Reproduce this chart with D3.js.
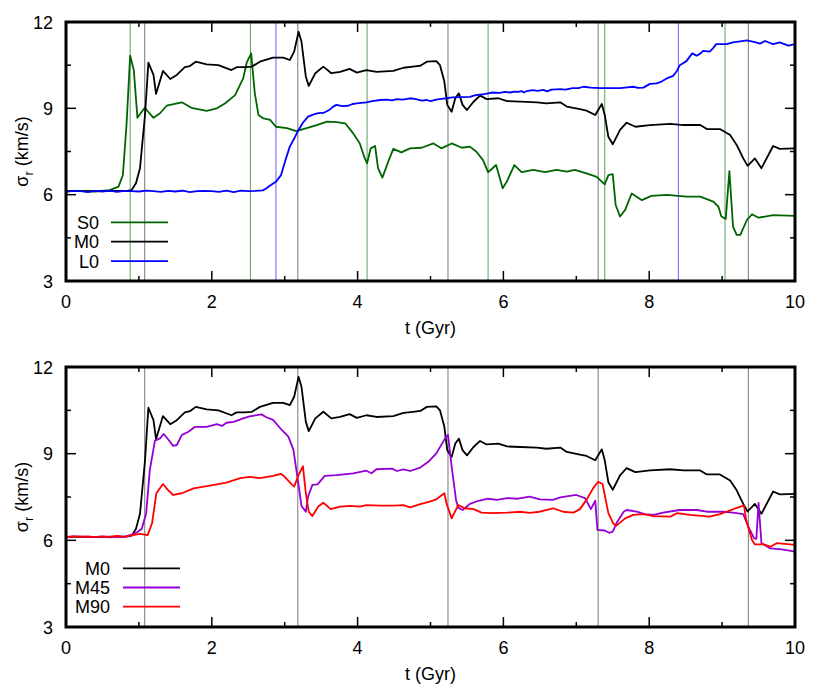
<!DOCTYPE html>
<html>
<head>
<meta charset="utf-8">
<script src="https://cdn.jsdelivr.net/npm/d3@7"></script>
<style>
html,body{margin:0;padding:0;background:#fff;}
svg{display:block;font-family:"Liberation Sans",Arial,Helvetica,sans-serif;}
</style>
</head>
<body>
<svg id="chart" width="830" height="690"></svg>
<script>
// ---------- data ----------
const xTicks = [0, 2, 4, 6, 8, 10];
const yTicks = [3, 6, 9, 12];

const S0 = [[0,6.12],[0.2,6.13],[0.4,6.11],[0.6,6.16],[0.72,6.28],[0.78,6.68],[0.83,8.42],[0.88,10.83],[0.93,10.33],[0.98,8.67],[1.08,9.02],[1.20,8.67],[1.29,8.83],[1.38,9.09],[1.59,9.21],[1.72,9.02],[1.93,8.91],[2.07,9.0],[2.18,9.17],[2.32,9.46],[2.43,10.04],[2.48,10.6],[2.54,10.91],[2.59,9.52],[2.64,8.77],[2.71,8.65],[2.80,8.6],[2.88,8.36],[3.03,8.31],[3.16,8.21],[3.30,8.31],[3.44,8.42],[3.58,8.54],[3.71,8.52],[3.83,8.48],[3.94,8.13],[4.03,7.78],[4.09,7.32],[4.13,7.09],[4.18,7.61],[4.24,7.69],[4.28,6.92],[4.34,6.59],[4.42,7.15],[4.49,7.59],[4.60,7.47],[4.72,7.61],[4.88,7.63],[5.04,7.78],[5.15,7.61],[5.29,7.78],[5.43,7.63],[5.54,7.67],[5.63,7.49],[5.72,7.2],[5.79,6.78],[5.90,7.03],[5.99,6.22],[6.05,6.47],[6.15,7.03],[6.25,6.78],[6.41,6.86],[6.57,6.78],[6.73,6.86],[6.87,6.8],[6.98,6.86],[7.14,6.74],[7.28,6.62],[7.39,6.36],[7.44,6.68],[7.50,6.71],[7.54,5.64],[7.60,5.24],[7.67,5.47],[7.76,6.04],[7.90,5.81],[8.03,5.96],[8.24,5.99],[8.51,5.93],[8.70,5.93],[8.88,5.76],[8.95,5.58],[8.99,5.24],[9.05,5.16],[9.10,6.82],[9.15,4.89],[9.20,4.6],[9.25,4.6],[9.34,5.12],[9.41,5.32],[9.50,5.2],[9.70,5.29],[10,5.26]];

const M0 = [[0,6.12],[0.5,6.12],[0.85,6.14],[0.90,6.16],[0.96,6.4],[1.015,6.92],[1.084,8.77],[1.13,10.59],[1.20,10.16],[1.235,9.5],[1.33,10.3],[1.43,10.02],[1.52,10.16],[1.63,10.43],[1.70,10.47],[1.78,10.62],[1.93,10.53],[2.09,10.5],[2.27,10.33],[2.34,10.43],[2.45,10.43],[2.55,10.45],[2.66,10.62],[2.84,10.76],[2.98,10.76],[3.07,10.68],[3.13,10.97],[3.19,11.66],[3.23,11.32],[3.29,10.1],[3.33,9.78],[3.42,10.22],[3.53,10.45],[3.64,10.22],[3.76,10.27],[3.89,10.37],[3.99,10.24],[4.12,10.33],[4.26,10.27],[4.49,10.3],[4.63,10.41],[4.76,10.45],[4.86,10.48],[4.95,10.62],[5.08,10.64],[5.13,10.5],[5.19,9.93],[5.23,9.12],[5.29,8.88],[5.34,9.35],[5.39,9.52],[5.44,9.12],[5.50,8.94],[5.59,9.23],[5.68,9.44],[5.77,9.32],[5.93,9.35],[6.05,9.25],[6.23,9.23],[6.46,9.21],[6.59,9.17],[6.78,9.21],[6.87,9.06],[7.05,8.97],[7.14,8.92],[7.26,8.77],[7.35,9.15],[7.39,8.77],[7.44,8.01],[7.50,7.75],[7.60,8.25],[7.69,8.5],[7.81,8.36],[8.01,8.42],[8.29,8.46],[8.47,8.42],[8.70,8.42],[8.79,8.28],[8.97,8.28],[9.11,8.07],[9.20,7.73],[9.29,7.26],[9.35,7.0],[9.45,7.26],[9.54,6.92],[9.70,7.69],[9.79,7.59],[10,7.61]];

const L0 = [[0,6.10],[0.1,6.13],[0.2,6.12],[0.3,6.09],[0.4,6.13],[0.5,6.11],[0.6,6.14],[0.7,6.10],[0.8,6.13],[0.9,6.12],[1.0,6.11],[1.1,6.14],[1.2,6.12],[1.3,6.10],[1.4,6.13],[1.5,6.11],[1.6,6.14],[1.7,6.09],[1.8,6.12],[1.9,6.13],[2.0,6.12],[2.1,6.10],[2.2,6.14],[2.3,6.09],[2.4,6.14],[2.5,6.12],[2.6,6.13],[2.7,6.15],[2.75,6.22],[2.82,6.35],[2.88,6.45],[2.95,6.68],[3.01,7.2],[3.07,7.67],[3.13,7.95],[3.19,8.25],[3.25,8.5],[3.32,8.71],[3.39,8.78],[3.46,8.83],[3.53,8.84],[3.61,8.94],[3.66,9.05],[3.71,9.12],[3.79,9.08],[3.87,9.09],[3.93,9.15],[3.99,9.17],[4.05,9.19],[4.12,9.21],[4.2,9.25],[4.31,9.29],[4.4,9.30],[4.47,9.28],[4.54,9.32],[4.62,9.30],[4.72,9.35],[4.8,9.32],[4.88,9.27],[4.95,9.29],[5.0,9.25],[5.08,9.30],[5.15,9.33],[5.22,9.35],[5.3,9.38],[5.4,9.39],[5.54,9.40],[5.62,9.46],[5.7,9.48],[5.79,9.52],[5.85,9.55],[5.95,9.54],[6.02,9.57],[6.09,9.55],[6.15,9.58],[6.2,9.57],[6.25,9.6],[6.28,9.55],[6.32,9.6],[6.4,9.63],[6.47,9.61],[6.55,9.64],[6.6,9.59],[6.66,9.65],[6.78,9.67],[6.85,9.65],[6.95,9.7],[7.03,9.70],[7.10,9.75],[7.2,9.72],[7.33,9.7],[7.45,9.70],[7.6,9.7],[7.7,9.73],[7.78,9.75],[7.85,9.71],[7.92,9.72],[8.01,9.85],[8.10,9.87],[8.17,9.93],[8.24,10.04],[8.33,10.13],[8.38,10.3],[8.42,10.5],[8.51,10.64],[8.59,10.91],[8.65,10.83],[8.70,10.9],[8.74,11.0],[8.83,10.97],[8.88,11.1],[8.92,11.23],[9.06,11.23],[9.15,11.29],[9.25,11.33],[9.34,11.36],[9.45,11.30],[9.52,11.25],[9.59,11.34],[9.65,11.28],[9.70,11.23],[9.79,11.29],[9.91,11.18],[10,11.23]];

const M45 = [[0,6.12],[0.1,6.14],[0.2,6.13],[0.3,6.11],[0.4,6.12],[0.5,6.13],[0.6,6.10],[0.7,6.13],[0.8,6.12],[0.9,6.2],[0.97,6.27],[1.04,6.4],[1.10,6.94],[1.15,8.44],[1.22,9.45],[1.29,9.53],[1.34,9.68],[1.40,9.5],[1.47,9.27],[1.52,9.3],[1.59,9.65],[1.68,9.76],[1.77,9.93],[1.93,9.93],[2.07,10.02],[2.14,9.96],[2.20,10.07],[2.30,10.1],[2.43,10.22],[2.52,10.29],[2.68,10.36],[2.75,10.26],[2.84,10.17],[2.96,9.82],[3.05,9.59],[3.12,9.13],[3.16,8.44],[3.20,7.74],[3.23,7.19],[3.29,6.99],[3.32,7.51],[3.38,7.92],[3.45,7.94],[3.55,8.23],[3.71,8.26],[3.94,8.32],[4.12,8.41],[4.19,8.32],[4.26,8.46],[4.47,8.48],[4.54,8.40],[4.63,8.46],[4.72,8.40],[4.86,8.52],[4.97,8.72],[5.08,9.01],[5.20,9.53],[5.24,9.65],[5.29,8.55],[5.35,7.4],[5.38,7.13],[5.44,7.05],[5.54,7.26],[5.66,7.37],[5.79,7.44],[5.91,7.40],[6.05,7.46],[6.2,7.44],[6.36,7.51],[6.5,7.42],[6.68,7.40],[6.78,7.49],[7.0,7.57],[7.12,7.46],[7.20,7.08],[7.26,7.37],[7.29,6.36],[7.39,6.34],[7.45,6.26],[7.50,6.30],[7.55,6.59],[7.65,6.99],[7.69,7.05],[7.83,6.99],[7.94,6.91],[8.06,6.88],[8.19,6.96],[8.42,7.05],[8.65,7.05],[8.79,6.99],[9.02,6.99],[9.15,6.96],[9.29,6.91],[9.36,6.47],[9.44,6.07],[9.47,6.05],[9.50,7.3],[9.54,5.9],[9.66,5.72],[9.82,5.69],[10,5.61]];

const M90 = [[0,6.10],[0.1,6.14],[0.2,6.13],[0.3,6.14],[0.4,6.11],[0.5,6.14],[0.6,6.12],[0.7,6.15],[0.8,6.12],[0.9,6.17],[1.015,6.22],[1.12,6.18],[1.18,6.59],[1.24,7.63],[1.33,7.95],[1.40,7.74],[1.47,7.57],[1.59,7.63],[1.75,7.8],[1.93,7.88],[2.07,7.94],[2.20,8.0],[2.39,8.15],[2.52,8.2],[2.66,8.15],[2.84,8.23],[2.95,8.3],[3.0,8.2],[3.08,7.98],[3.13,7.86],[3.19,8.26],[3.25,8.57],[3.29,7.63],[3.33,6.99],[3.38,6.84],[3.46,7.17],[3.53,7.30],[3.63,7.08],[3.76,7.17],[3.90,7.19],[4.03,7.17],[4.12,7.22],[4.31,7.2],[4.5,7.2],[4.63,7.22],[4.72,7.14],[4.86,7.25],[4.99,7.34],[5.08,7.42],[5.19,7.63],[5.22,7.28],[5.29,6.76],[5.38,7.22],[5.47,7.11],[5.59,7.08],[5.70,6.96],[5.84,6.94],[6.05,6.96],[6.23,6.99],[6.36,6.95],[6.50,6.99],[6.68,7.11],[6.82,6.99],[6.96,6.96],[7.05,7.08],[7.14,7.4],[7.23,7.8],[7.30,8.03],[7.36,7.95],[7.44,6.94],[7.51,6.57],[7.55,6.51],[7.67,6.76],[7.78,6.88],[7.92,6.91],[8.06,6.84],[8.29,6.82],[8.38,6.94],[8.56,6.88],[8.83,6.82],[8.97,6.91],[9.06,6.99],[9.25,7.17],[9.30,7.2],[9.33,6.71],[9.41,6.01],[9.45,5.86],[9.57,5.86],[9.66,5.78],[9.75,5.9],[10,5.84]];

// event times (vertical lines)
const sEvents = [0.88, 2.53, 4.13, 5.79, 7.39, 9.04];
const mEvents = [1.08, 3.18, 5.24, 7.30, 9.36];
const lEvents = [2.88, 8.40];

const topSeries = [
  {name:"S0", data:S0, color:"#006400"},
  {name:"M0", data:M0, color:"#000000"},
  {name:"L0", data:L0, color:"#0000ff"}
];
const botSeries = [
  {name:"M0", data:M0, color:"#000000"},
  {name:"M45", data:M45, color:"#9400d3"},
  {name:"M90", data:M90, color:"#ff0000"}
];
const topEvents = [
  {times:sEvents, color:"#5f9f5f"},
  {times:mEvents, color:"#777777"},
  {times:lEvents, color:"#6060ff"}
];
const botEvents = [{times:mEvents, color:"#777777"}];

// ---------- drawing ----------
const svg = d3.select("#chart");
const X0 = 66, X1 = 795;
const FS = 18;

function panel(top, bottom, series, events, legend) {
  const x = d3.scaleLinear().domain([0, 10]).range([X0, X1]);
  const y = d3.scaleLinear().domain([3, 12]).range([bottom, top]);
  const g = svg.append("g");

  // event lines
  events.forEach(ev => {
    g.selectAll(null).data(ev.times).enter().append("line")
      .attr("x1", d => x(d)).attr("x2", d => x(d))
      .attr("y1", top).attr("y2", bottom)
      .attr("stroke", ev.color).attr("stroke-width", 1);
  });

  // ticks (inward, mirrored)
  const xMajor = xTicks, xMinor = d3.range(1, 10, 2);
  const yMajor = yTicks, yMinor = [4.5, 7.5, 10.5];
  const tk = g.append("g").attr("stroke", "#000").attr("stroke-width", 1.5);
  xMajor.forEach(v => {
    tk.append("line").attr("x1", x(v)).attr("x2", x(v)).attr("y1", bottom).attr("y2", bottom - 10);
    tk.append("line").attr("x1", x(v)).attr("x2", x(v)).attr("y1", top).attr("y2", top + 10);
  });
  xMinor.forEach(v => {
    tk.append("line").attr("x1", x(v)).attr("x2", x(v)).attr("y1", bottom).attr("y2", bottom - 5);
    tk.append("line").attr("x1", x(v)).attr("x2", x(v)).attr("y1", top).attr("y2", top + 5);
  });
  yMajor.forEach(v => {
    tk.append("line").attr("x1", X0).attr("x2", X0 + 10).attr("y1", y(v)).attr("y2", y(v));
    tk.append("line").attr("x1", X1).attr("x2", X1 - 10).attr("y1", y(v)).attr("y2", y(v));
  });
  yMinor.forEach(v => {
    tk.append("line").attr("x1", X0).attr("x2", X0 + 5).attr("y1", y(v)).attr("y2", y(v));
    tk.append("line").attr("x1", X1).attr("x2", X1 - 5).attr("y1", y(v)).attr("y2", y(v));
  });

  // series
  const line = d3.line().x(d => x(d[0])).y(d => y(d[1]));
  series.forEach(s => {
    g.append("path").datum(s.data).attr("d", line)
      .attr("fill", "none").attr("stroke", s.color)
      .attr("stroke-width", 1.8).attr("stroke-linejoin", "round");
  });

  // frame
  g.append("rect").attr("x", X0).attr("y", top).attr("width", X1 - X0).attr("height", bottom - top)
    .attr("fill", "none").attr("stroke", "#000").attr("stroke-width", 3);

  // tick labels
  g.selectAll(null).data(xMajor).enter().append("text")
    .attr("x", d => x(d)).attr("y", bottom + 27).attr("text-anchor", "middle")
    .attr("font-size", FS).text(d => d);
  g.selectAll(null).data(yMajor).enter().append("text")
    .attr("x", 53).attr("y", d => y(d) + 6.5).attr("text-anchor", "end")
    .attr("font-size", FS).text(d => d);

  // axis titles
  g.append("text").attr("x", (X0 + X1) / 2).attr("y", bottom + 53)
    .attr("text-anchor", "middle").attr("font-size", FS).text("t (Gyr)");
  const yc = (top + bottom) / 2;
  const yl = g.append("text").attr("transform", `translate(28,${yc}) rotate(-90)`)
    .attr("text-anchor", "middle").attr("font-size", FS);
  yl.append("tspan").text("σ");
  yl.append("tspan").attr("font-size", 13).attr("dy", 5).text("r");
  yl.append("tspan").attr("dy", -5).text(" (km/s)");

  // legend
  series.forEach((s, i) => {
    const ly = legend.y0 + i * legend.dy;
    g.append("text").attr("x", legend.tx).attr("y", ly + 6.5).attr("text-anchor", "end")
      .attr("font-size", FS).text(s.name);
    g.append("line").attr("x1", legend.lx0).attr("x2", legend.lx1).attr("y1", ly).attr("y2", ly)
      .attr("stroke", s.color).attr("stroke-width", 1.8);
  });
}

panel(22, 281, topSeries, topEvents, {y0:222.3, dy:19.4, tx:99, lx0:111, lx1:168});
panel(367, 627, botSeries, botEvents, {y0:568.3, dy:19.2, tx:110, lx0:123, lx1:180});
</script>
</body>
</html>
